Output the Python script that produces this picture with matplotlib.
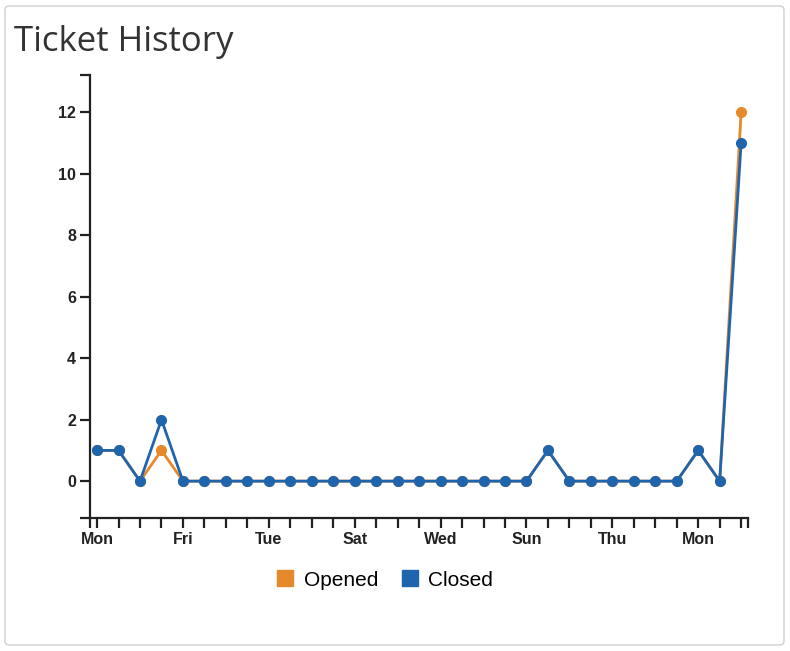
import matplotlib
matplotlib.use("Agg")
import matplotlib.pyplot as plt
from matplotlib.patches import FancyBboxPatch
from matplotlib.lines import Line2D

day_names = ["Mon", "Tue", "Wed", "Thu", "Fri", "Sat", "Sun"]
n_days = 31
days = list(range(n_days))
opened = [1, 1, 0, 1, 0, 0, 0, 0, 0, 0, 0, 0, 0, 0, 0, 0, 0, 0, 0, 0, 0,
          1, 0, 0, 0, 0, 0, 0, 1, 0, 12]
closed = [1, 1, 0, 2, 0, 0, 0, 0, 0, 0, 0, 0, 0, 0, 0, 0, 0, 0, 0, 0, 0,
          1, 0, 0, 0, 0, 0, 0, 1, 0, 11]
y_ticks = [0, 2, 4, 6, 8, 10, 12]

orange = "#e6892a"
blue = "#1f65ad"
axis_col = "#222222"

W, H = 790, 651
fig = plt.figure(figsize=(W / 100, H / 100), dpi=100)
fig.patch.set_facecolor("white")

panel = FancyBboxPatch((5 / W, 6 / H), 779 / W, 639 / H,
                       boxstyle="round,pad=0,rounding_size=0.006",
                       transform=fig.transFigure, facecolor="none",
                       edgecolor="#d0d0d0", linewidth=1.0, zorder=0)
fig.patches.append(panel)

fig.text(14 / W, 1 - 42 / H, "Ticket History", fontsize=25, family="Open Sans",
         color="#333333", va="center", ha="left")

ax = fig.add_axes([90 / W, 1 - 518 / H, (748 - 90) / W, (518 - 75) / H])
ax.set_facecolor("none")

ax.plot(days, opened, color=orange, lw=2.0, marker="o", ms=7, zorder=3)
ax.plot(days, closed, color=blue, lw=2.0, marker="o", ms=7, zorder=4)

xlo, xhi = -0.33, 30.32
ylo, yhi = -1.2, 13.22
ax.set_xlim(xlo, xhi)
ax.set_ylim(ylo, yhi)

for s in ["top", "right"]:
    ax.spines[s].set_visible(False)
for s in ["left", "bottom"]:
    ax.spines[s].set_color(axis_col)
    ax.spines[s].set_linewidth(1.6)

ax.set_xticks(days)
ax.set_xticklabels([day_names[d % 7] if d % 4 == 0 else "" for d in days])
ax.set_yticks(y_ticks)
ax.set_yticklabels([str(v) for v in y_ticks])
ax.set_xticks([xlo, xhi], minor=True)
ax.set_yticks([ylo, yhi], minor=True)

for lab in ax.get_xticklabels() + ax.get_yticklabels():
    lab.set_fontfamily("Liberation Sans")
    lab.set_fontweight("bold")
    lab.set_fontsize(11.5)
    lab.set_color(axis_col)

ax.tick_params(axis="both", which="both", direction="out", length=7, width=1.6,
               color=axis_col)
ax.tick_params(axis="x", pad=3)
ax.tick_params(axis="y", pad=3)

handles = [Line2D([], [], marker="s", ls="none", ms=11, color=orange, label="Opened"),
           Line2D([], [], marker="s", ls="none", ms=11, color=blue, label="Closed")]
fig.legend(handles=handles, loc="center", bbox_to_anchor=(384 / W, 1 - 580 / H),
           ncol=2, frameon=False, prop=dict(family="Liberation Sans", size=15),
           handletextpad=0.4, columnspacing=1.0, handlelength=1.0)

fig.savefig("out.png", dpi=100, facecolor="white")
